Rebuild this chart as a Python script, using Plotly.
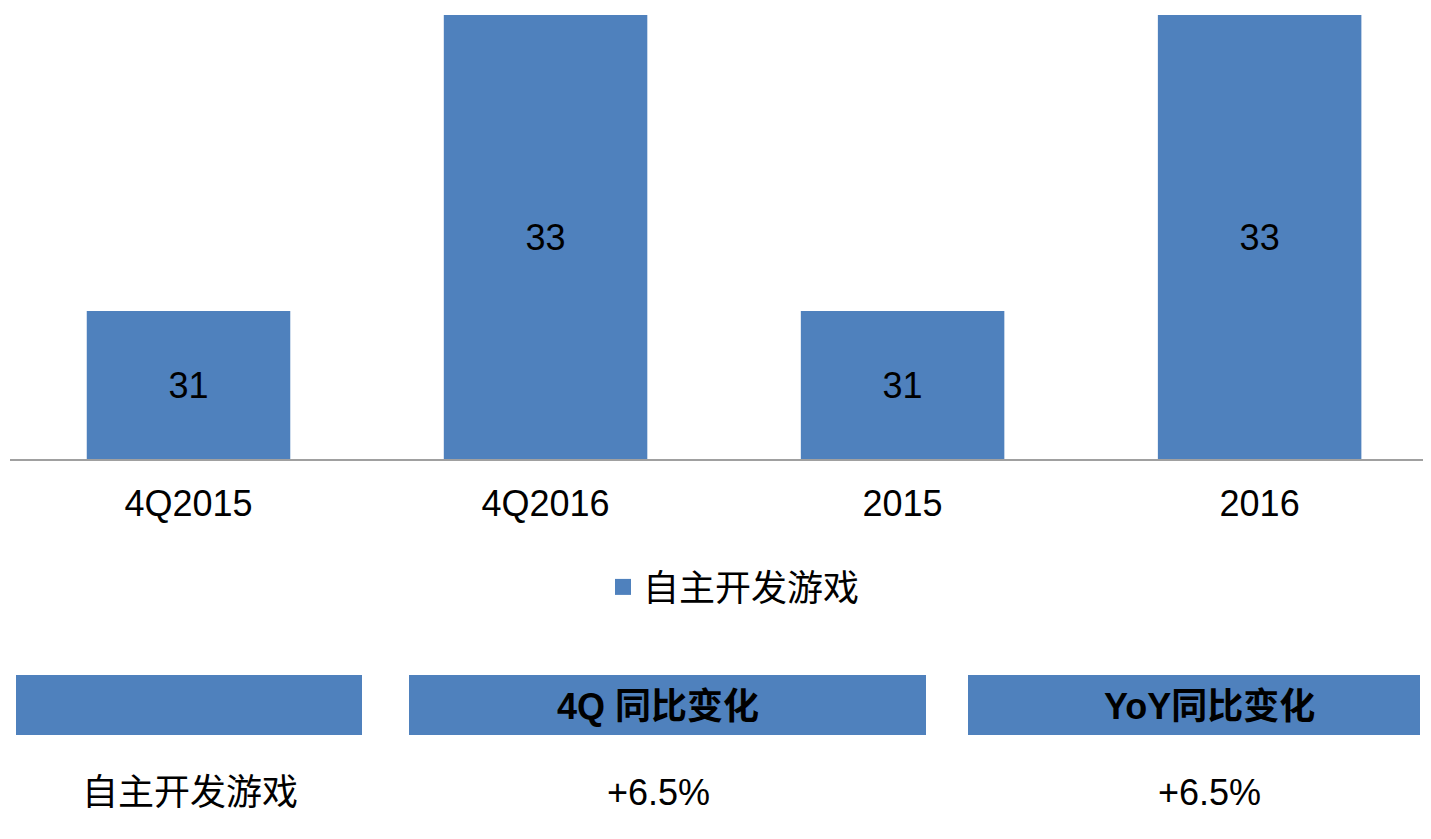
import plotly.graph_objects as go

categories = ["4Q2015", "4Q2016", "2015", "2016"]
values = [31, 33, 31, 33]
series_name = "自主开发游戏"
table_header = ["", "4Q 同比变化", "YoY同比变化"]
table_row = ["自主开发游戏", "+6.5%", "+6.5%"]

AXIS_MIN, AXIS_MAX = 30, 33
BLUE = "#4F81BD"
FONT = "Liberation Sans, Arial, Noto Sans CJK SC, sans-serif"

OFF = 8  # default page body margin
W, H = 1423, 831
ML, MR, MT, MB = 2, 0, 7, 380
PW = W - ML - MR
PH = H - MT - MB


def px(x):
    return (x - OFF - ML) / PW


def py(y):
    return (H - MB - (y - OFF)) / PH


fig = go.Figure()
fig.add_trace(go.Bar(
    x=categories,
    y=[v - AXIS_MIN for v in values],
    base=AXIS_MIN,
    text=[str(v) for v in values],
    textposition="inside",
    insidetextanchor="middle",
    textfont=dict(size=36, color="black", family=FONT),
    marker=dict(color=BLUE, line=dict(width=0)),
    showlegend=False,
    hoverinfo="skip",
))
fig.add_trace(go.Scatter(
    x=[None], y=[None], mode="markers", name=series_name,
    marker=dict(symbol="square", size=18, color=BLUE),
))

boxes = [(16, 362), (409, 926), (968, 1420)]
text_centers = [190, 658, 1209]
for (x0, x1), head in zip(boxes, table_header):
    fig.add_shape(type="rect", xref="paper", yref="paper",
                  x0=px(x0), x1=px(x1), y0=py(735), y1=py(675),
                  fillcolor=BLUE, line=dict(width=0))
for cx, head, cell in zip(text_centers, table_header, table_row):
    if head:
        fig.add_annotation(xref="paper", yref="paper", x=px(cx), y=py(706),
                           xanchor="center", yanchor="middle",
                           text="<b>" + head + "</b>", showarrow=False,
                           font=dict(size=36, color="black", family=FONT))
    fig.add_annotation(xref="paper", yref="paper", x=px(cx), y=py(792),
                       xanchor="center", yanchor="middle",
                       text=cell, showarrow=False,
                       font=dict(size=36, color="black", family=FONT))

fig.update_layout(
    width=W, height=H,
    margin=dict(l=ML, r=MR, t=MT, b=MB),
    paper_bgcolor="white", plot_bgcolor="white",
    bargap=0.43,
    font=dict(family=FONT, size=36, color="black"),
    legend=dict(orientation="h", x=px(734), xanchor="center", y=py(587), yanchor="middle",
                font=dict(size=36, family=FONT), itemwidth=30, bgcolor="rgba(0,0,0,0)"),
    xaxis=dict(range=[-0.5, 3.48], showline=True, linecolor="#A0A0A0", linewidth=1.5,
               showgrid=False, ticks="", ticklabelstandoff=12,
               tickfont=dict(size=36, color="black", family=FONT), fixedrange=True),
    yaxis=dict(range=[AXIS_MIN, AXIS_MAX], visible=False, showgrid=False, fixedrange=True),
)

fig.write_html("out.html")
